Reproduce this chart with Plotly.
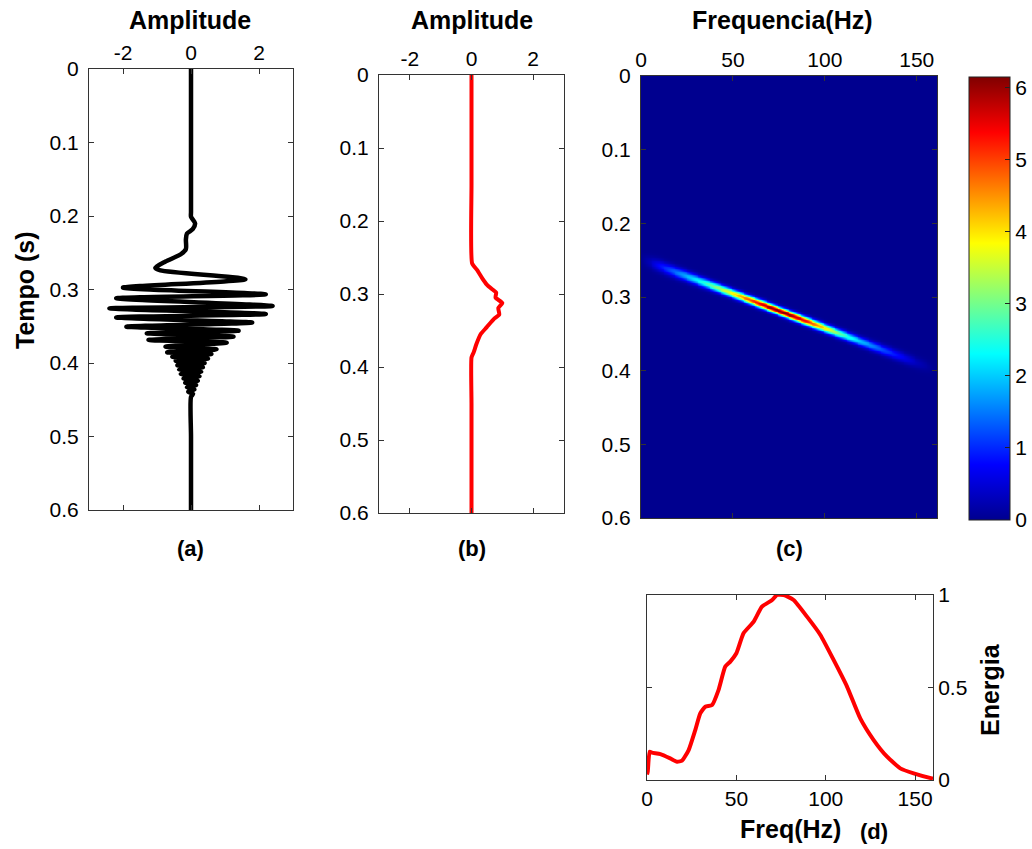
import numpy as np
import plotly.graph_objects as go

W, H = 1032, 849

# ---------------- data ----------------
# (a) seismic trace: extrema (time s, amplitude)
trace_t = [0.000, 0.100, 0.195, 0.201, 0.210, 0.218, 0.224, 0.232, 0.245, 0.252, 0.262, 0.2705, 0.274,
           0.286, 0.2975, 0.3066, 0.312, 0.3224, 0.3256, 0.3333, 0.338, 0.345, 0.3506,
           0.356, 0.3596, 0.364, 0.3687, 0.3724, 0.3778, 0.3814, 0.3855, 0.3878, 0.3914, 0.394,
           0.397, 0.400, 0.403, 0.406, 0.409, 0.412, 0.415, 0.418, 0.421, 0.424, 0.427, 0.430,
           0.433, 0.436, 0.439, 0.442, 0.446, 0.500, 0.600]
trace_a = [0.0, 0.0, 0.0, 0.0, 0.12, 0.05, -0.12, -0.15, -0.15, -0.3, -0.75, -1.05, -0.9,
           1.6, -2.0, 2.2, -2.2, 2.4, -2.4, 2.2, -2.2, 1.8, -1.9,
           1.4, -1.3, 1.25, -1.25, 1.05, -0.75, 0.75, -0.7, 0.6, -0.55, 0.5,
           -0.45, 0.4, -0.4, 0.35, -0.35, 0.3, -0.3, 0.25, -0.22, 0.2, -0.17, 0.15,
           -0.12, 0.1, -0.08, 0.06, 0.0, 0.0, 0.0]

# (b) envelope
env_t = [0.0, 0.150, 0.258, 0.267, 0.2785, 0.2868, 0.2936, 0.298, 0.305, 0.3123, 0.3192,
         0.328, 0.334, 0.3457, 0.3548, 0.3685, 0.380, 0.387, 0.450, 0.600]
env_a = [0.0, 0.0, 0.02, 0.18, 0.35, 0.49, 0.67, 0.8, 0.78, 1.0, 0.87,
         0.9, 0.73, 0.49, 0.30, 0.16, 0.07, 0.0, 0.0, 0.0]

# (c) time-frequency ridge
ridge_freq = [0, 5, 10, 20, 30, 40, 50, 60, 70, 80, 90, 100, 110, 120, 130, 140, 150, 160]
ridge_time = [0.2485, 0.2532, 0.2579, 0.2673, 0.2766, 0.2860, 0.2953, 0.3047, 0.3140,
              0.3234, 0.3328, 0.3421, 0.3515, 0.3609, 0.3702, 0.3796, 0.3890, 0.3980]
ridge_peak = [0.0, 0.3, 0.8, 1.5, 2.2, 3.0, 3.9, 5.0, 6.0, 6.15, 5.3, 4.0, 2.7, 1.9,
              1.3, 0.8, 0.3, 0.0]
ridge_width = [0.008, 0.008, 0.0078, 0.0072, 0.0065, 0.006, 0.0056, 0.0054, 0.0052,
               0.0052, 0.0054, 0.0056, 0.0058, 0.006, 0.0065, 0.007, 0.0075, 0.0075]

# (d) spectrum
spec_f = [0.0, 0.4, 1.5, 2.8, 7.5, 13.0, 16.8, 19.6, 23.3, 27.0, 29.8, 32.6, 36.4, 40.0,
          43.8, 46.6, 50.0, 54.0, 59.7, 64.3, 70.0, 72.7, 76.5, 82.0, 89.5, 97.0, 104.4,
          111.9, 119.3, 126.8, 134.3, 141.7, 149.2, 159.4, 160.0]
spec_e = [0.03, 0.045, 0.153, 0.148, 0.14, 0.117, 0.099, 0.105, 0.162, 0.27, 0.36, 0.396,
          0.405, 0.486, 0.613, 0.64, 0.685, 0.793, 0.856, 0.937, 0.973, 1.0, 1.0, 0.973,
          0.883, 0.784, 0.649, 0.505, 0.333, 0.216, 0.126, 0.063, 0.036, 0.009, 0.008]

time_ticks = [0, 0.1, 0.2, 0.3, 0.4, 0.5, 0.6]
time_labels = ["0", "0.1", "0.2", "0.3", "0.4", "0.5", "0.6"]
amp_ticks = [-2, 0, 2]
amp_labels = ["-2", "0", "2"]
freq_ticks = [0, 50, 100, 150]
energy_ticks = [0, 0.5, 1]
energy_labels = ["0", "0.5", "1"]
cbar_ticks = [0, 1, 2, 3, 4, 5, 6]

# ---------------- heatmap table built from ridge arrays ----------------
fgrid = np.arange(0, 161.5, 0.5)
tgrid = np.arange(0, 0.6005, 0.001)
tc = np.interp(fgrid, ridge_freq, ridge_time)
pk = np.interp(fgrid, ridge_freq, ridge_peak)
wd = np.interp(fgrid, ridge_freq, ridge_width)
Z = pk[None, :] * np.exp(-((tgrid[:, None] - tc[None, :]) / wd[None, :]) ** 2)

jet = [[0.0, "rgb(0,0,143)"], [0.125, "rgb(0,0,255)"], [0.375, "rgb(0,255,255)"],
       [0.625, "rgb(255,255,0)"], [0.875, "rgb(255,0,0)"], [1.0, "rgb(128,0,0)"]]

FONT = "Liberation Sans"
TICKF = dict(family=FONT, size=21, color="black")


def xd(a, b):
    return [a / W, b / W]


def yd(top, bottom):
    return [1 - bottom / H, 1 - top / H]


fig = go.Figure()
fig.add_trace(go.Scatter(x=trace_a, y=trace_t, mode="lines",
                         line=dict(color="black", width=4.5, shape="spline", smoothing=0.7),
                         xaxis="x", yaxis="y", showlegend=False))
fig.add_trace(go.Scatter(x=env_a, y=env_t, mode="lines",
                         line=dict(color="red", width=4, shape="spline", smoothing=0.5),
                         xaxis="x2", yaxis="y2", showlegend=False))
fig.add_trace(go.Heatmap(x=fgrid, y=tgrid, z=Z, colorscale=jet, zmin=0, zmax=6.15,
                         xaxis="x3", yaxis="y3",
                         colorbar=dict(x=969 / W, xanchor="left", y=1 - 520 / H, yanchor="bottom",
                                       len=443 / H, lenmode="fraction", thickness=41,
                                       thicknessmode="pixels", outlinewidth=1, outlinecolor="#222",
                                       tickvals=cbar_ticks, ticks="inside", ticklen=5,
                                       tickcolor="#222", tickfont=TICKF, xpad=0, ypad=0)))
fig.add_trace(go.Scatter(x=spec_f, y=spec_e, mode="lines",
                         line=dict(color="red", width=4, shape="spline", smoothing=0.5),
                         xaxis="x4", yaxis="y4", showlegend=False))

ax_common = dict(showline=True, linecolor="#333", linewidth=1, mirror="allticks",
                 ticks="inside", ticklen=5, tickcolor="#333", tickfont=TICKF,
                 showgrid=False, zeroline=False, automargin=False)

fig.update_layout(
    width=W, height=H, margin=dict(l=0, r=0, t=0, b=0, autoexpand=False),
    paper_bgcolor="white", plot_bgcolor="white",
    xaxis=dict(domain=xd(89, 293), anchor="y", side="top", range=[-3, 3],
               tickvals=amp_ticks, ticktext=amp_labels, **ax_common),
    yaxis=dict(domain=yd(69, 510), anchor="x", range=[0.6, 0], tickvals=time_ticks,
               ticktext=time_labels, ticklabelstandoff=5, **ax_common),
    xaxis2=dict(domain=xd(379, 564), anchor="y2", side="top", range=[-3, 3],
                tickvals=amp_ticks, ticktext=amp_labels, **ax_common),
    yaxis2=dict(domain=yd(75, 513), anchor="x2", range=[0.6, 0], tickvals=time_ticks,
                ticktext=time_labels, ticklabelstandoff=5, **ax_common),
    xaxis3=dict(domain=xd(641, 937), anchor="y3", side="top", range=[0, 161],
                tickvals=freq_ticks, **ax_common),
    yaxis3=dict(domain=yd(76, 518), anchor="x3", range=[0.6, 0], tickvals=time_ticks,
                ticktext=time_labels, ticklabelstandoff=5, **ax_common),
    xaxis4=dict(domain=xd(647, 933), anchor="y4", side="bottom", range=[0, 160],
                tickvals=freq_ticks, **ax_common),
    yaxis4=dict(domain=yd(595, 780), anchor="x4", side="right", range=[0, 1],
                tickvals=energy_ticks, ticktext=energy_labels, **ax_common),
)

TF = dict(family=FONT, size=25, color="black")


def ann(text, x, y, angle=0, font=TF):
    fig.add_annotation(text=text, x=x / W, y=1 - y / H, xref="paper", yref="paper",
                       showarrow=False, textangle=angle, font=font,
                       xanchor="center", yanchor="middle")


ann("<b>Amplitude</b>", 190, 20)
ann("<b>Amplitude</b>", 472, 20)
ann("<b>Frequencia(Hz)</b>", 782, 20)
ann("<b>Tempo (s)</b>", 25, 290, angle=-90)
ann("<b>(a)</b>", 190, 548, font=dict(family=FONT, size=22, color="black"))
ann("<b>(b)</b>", 472, 548, font=dict(family=FONT, size=22, color="black"))
ann("<b>(c)</b>", 789, 548, font=dict(family=FONT, size=22, color="black"))
ann("<b>Freq(Hz)</b>", 790, 829)
ann("<b>(d)</b>", 874, 831, font=dict(family=FONT, size=22, color="black"))
ann("<b>Energia</b>", 990, 690, angle=-90)

fig.write_html("out.html")
